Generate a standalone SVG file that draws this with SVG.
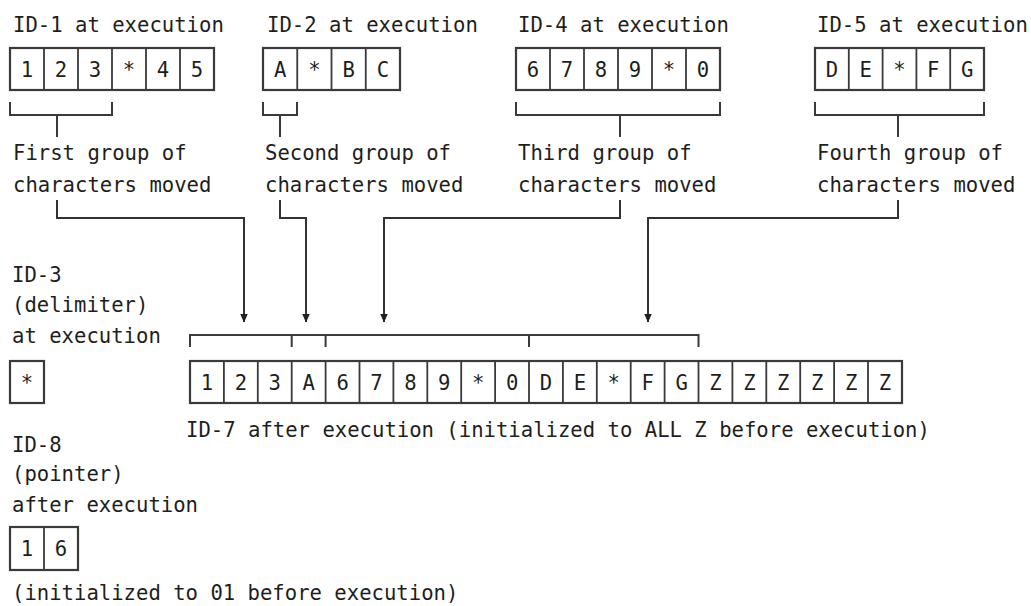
<svg xmlns="http://www.w3.org/2000/svg" width="1031" height="606" viewBox="0 0 1031 606">
<style>
text{font-family:"DejaVu Sans Mono","Liberation Mono",monospace;font-size:20.6px;fill:#1e1e1e}
.c{text-anchor:middle}
.box{fill:#fff;stroke:#3a3a3a;stroke-width:2.2}
.sep{stroke:#3a3a3a;stroke-width:1.8}
.br{fill:none;stroke:#3a3a3a;stroke-width:2}
.con{fill:none;stroke:#333;stroke-width:2}
</style>
<defs>
<marker id="ah" markerWidth="9" markerHeight="8" refX="8.5" refY="4" orient="auto" markerUnits="userSpaceOnUse" viewBox="0 0 9 8">
<path d="M0,0 L9,4 L0,8 Z" fill="#222"/>
</marker>
</defs>
<rect width="1031" height="606" fill="#fff"/>

<g id="id1">
<text x="13" y="32">ID-1 at execution</text>
<rect class="box" x="10" y="48" width="204" height="42"/>
<path class="sep" d="M44,48V90M78,48V90M112,48V90M146,48V90M180,48V90"/>
<text class="c" x="27" y="77">1</text><text class="c" x="61" y="77">2</text><text class="c" x="95" y="77">3</text><text class="c" x="129" y="77">*</text><text class="c" x="163" y="77">4</text><text class="c" x="197" y="77">5</text>
<path class="br" d="M10,102V115H112V102M57,115V137"/>
<text x="13" y="160">First group of</text>
<text x="13" y="192">characters moved</text>
</g>

<g id="id2">
<text x="267" y="32">ID-2 at execution</text>
<rect class="box" x="263" y="48" width="137" height="42"/>
<path class="sep" d="M297.25,48V90M331.5,48V90M365.75,48V90"/>
<text class="c" x="280.1" y="77">A</text><text class="c" x="314.4" y="77">*</text><text class="c" x="348.6" y="77">B</text><text class="c" x="382.9" y="77">C</text>
<path class="br" d="M263,102V115H297V102M280,115V137"/>
<text x="265" y="160">Second group of</text>
<text x="265" y="192">characters moved</text>
</g>

<g id="id4">
<text x="518" y="32">ID-4 at execution</text>
<rect class="box" x="516" y="48" width="204" height="42"/>
<path class="sep" d="M550,48V90M584,48V90M618,48V90M652,48V90M686,48V90"/>
<text class="c" x="533" y="77">6</text><text class="c" x="567" y="77">7</text><text class="c" x="601" y="77">8</text><text class="c" x="635" y="77">9</text><text class="c" x="669" y="77">*</text><text class="c" x="703" y="77">0</text>
<path class="br" d="M516,102V115H720V102M620,115V137"/>
<text x="518" y="160">Third group of</text>
<text x="518" y="192">characters moved</text>
</g>

<g id="id5">
<text x="817" y="32">ID-5 at execution</text>
<rect class="box" x="815" y="48" width="169" height="42"/>
<path class="sep" d="M848.8,48V90M882.6,48V90M916.4,48V90M950.2,48V90"/>
<text class="c" x="831.9" y="77">D</text><text class="c" x="865.7" y="77">E</text><text class="c" x="899.5" y="77">*</text><text class="c" x="933.3" y="77">F</text><text class="c" x="967.1" y="77">G</text>
<path class="br" d="M815,102V115H984V102M898,115V137"/>
<text x="817" y="160">Fourth group of</text>
<text x="817" y="192">characters moved</text>
</g>

<g id="id3">
<text x="12" y="282">ID-3</text>
<text x="12" y="312">(delimiter)</text>
<text x="12" y="343">at execution</text>
<rect class="box" x="10" y="361" width="34" height="42"/>
<text class="c" x="27" y="390">*</text>
</g>

<g id="id7">
<path class="br" d="M190,347V335H698.5V347M291.7,335V347M325.6,335V347M529,335V347"/>
<rect class="box" x="190" y="361" width="712" height="42"/>
<path class="sep" d="M223.9,361V403M257.8,361V403M291.7,361V403M325.6,361V403M359.5,361V403M393.4,361V403M427.3,361V403M461.2,361V403M495.1,361V403M529,361V403M562.9,361V403M596.8,361V403M630.7,361V403M664.6,361V403M698.5,361V403M732.4,361V403M766.3,361V403M800.2,361V403M834.1,361V403M868,361V403"/>
<text class="c" x="207" y="390">1</text><text class="c" x="240.9" y="390">2</text><text class="c" x="274.8" y="390">3</text><text class="c" x="308.7" y="390">A</text><text class="c" x="342.6" y="390">6</text><text class="c" x="376.5" y="390">7</text><text class="c" x="410.4" y="390">8</text><text class="c" x="444.3" y="390">9</text><text class="c" x="478.2" y="390">*</text><text class="c" x="512.1" y="390">0</text><text class="c" x="546" y="390">D</text><text class="c" x="579.9" y="390">E</text><text class="c" x="613.8" y="390">*</text><text class="c" x="647.7" y="390">F</text><text class="c" x="681.6" y="390">G</text><text class="c" x="715.5" y="390">Z</text><text class="c" x="749.4" y="390">Z</text><text class="c" x="783.3" y="390">Z</text><text class="c" x="817.2" y="390">Z</text><text class="c" x="851.1" y="390">Z</text><text class="c" x="885" y="390">Z</text>
<text x="186" y="437">ID-7 after execution (initialized to ALL Z before execution)</text>
</g>

<g id="id8">
<text x="12" y="452">ID-8</text>
<text x="12" y="481">(pointer)</text>
<text x="12" y="512">after execution</text>
<rect class="box" x="10" y="527" width="68" height="43"/>
<path class="sep" d="M44,527V570"/>
<text class="c" x="27" y="556">1</text><text class="c" x="61" y="556">6</text>
<text x="12" y="600">(initialized to 01 before execution)</text>
</g>

<g id="connectors">
<path class="con" d="M57,200V218H244V322" marker-end="url(#ah)"/>
<path class="con" d="M280,200V218H306V322" marker-end="url(#ah)"/>
<path class="con" d="M620,200V218H384V322" marker-end="url(#ah)"/>
<path class="con" d="M898,200V218H648V322" marker-end="url(#ah)"/>
</g>
</svg>
